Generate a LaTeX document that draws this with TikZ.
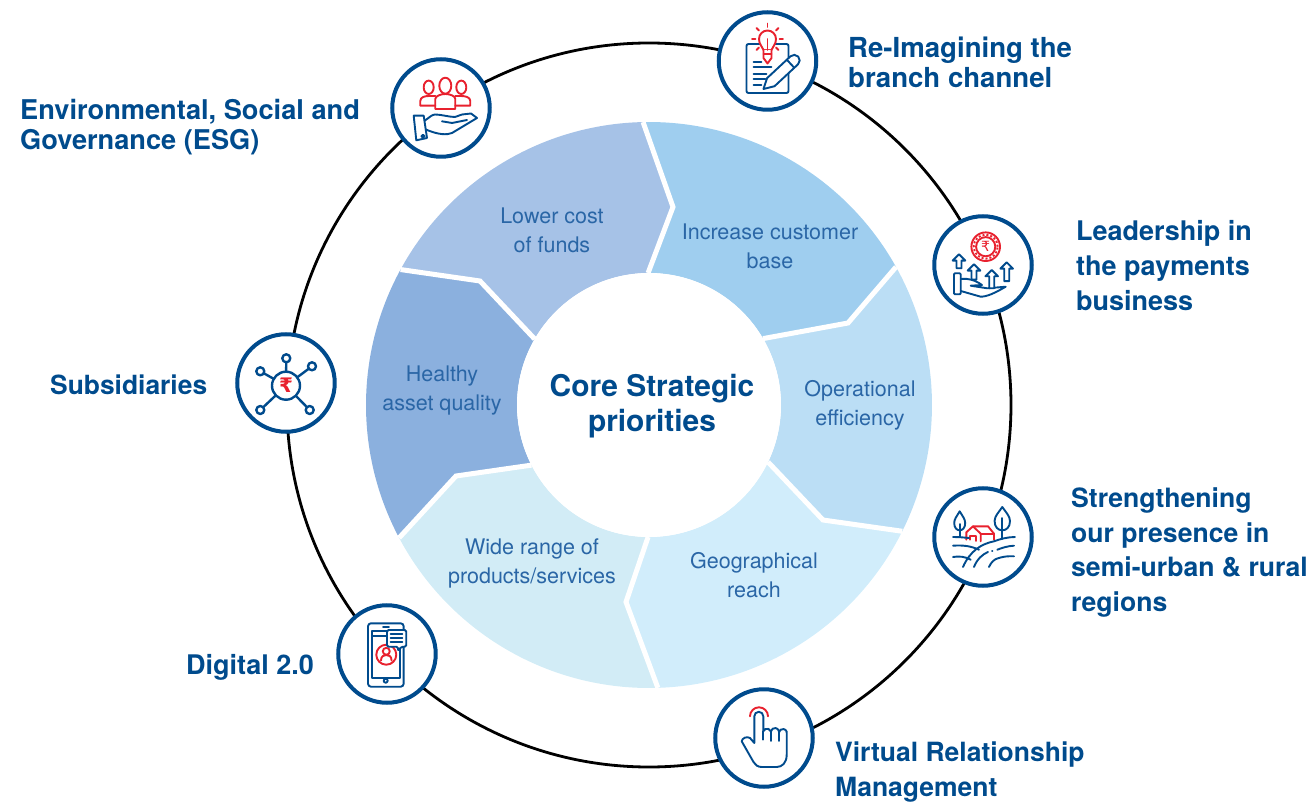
\documentclass[tikz,border=0pt]{standalone}
\usepackage{fontspec}
\setmainfont{TeX Gyre Heros}
\newfontfamily\rupeefont{DejaVu Sans}
\definecolor{deepblue}{HTML}{004B8D}
\definecolor{softblue}{HTML}{2A66A6}
\definecolor{iconred}{HTML}{E8212E}
\definecolor{lowercost}{HTML}{A6C2E7}
\definecolor{customer}{HTML}{9FCEEF}
\definecolor{operational}{HTML}{BBDEF5}
\definecolor{reach}{HTML}{D1EDFB}
\definecolor{products}{HTML}{D2ECF6}
\definecolor{assets}{HTML}{8BB0DE}
\tikzset{
    iconcircle/.style = {circle, draw = deepblue, line width = 4pt, fill = white, minimum size = 97.5pt, inner sep = 0pt},
    heading/.style 2 args = {anchor = west, align = left, inner sep = 0pt, text = deepblue, font = \bfseries\fontsize{#1}{#2}\selectfont},
    priority/.style = {align = center, inner sep = 0pt, text = softblue, font = \fontsize{21.5}{29}\selectfont},
    iconline/.style = {draw = deepblue, line width = 1.9pt, line join = round, line cap = round},
    iconredline/.style = {draw = iconred, line width = 1.9pt, line join = round, line cap = round}
}
\begin{document}
\begin{tikzpicture}[x = 1pt, y = 1pt]
    \useasboundingbox (-649,-398) rectangle (660,405);
    \foreach \i/\oa/\nx/\ny/\ia in {1/91.2/24/198/90.4, 2/29.2/199/82/30.2, 3/-26.5/174/-115/-25.6, 4/-88.2/-23/-197/-90.4, 5/-152/-193/-71/-152.9, 6/151.4/-169/124/150} {
        \coordinate (o\i) at (\oa:283);
        \coordinate (n\i) at (\nx,\ny);
        \coordinate (i\i) at (\ia:132);
    }
    \foreach \i/\oa/\ia/\j/\ob/\ib/\col in {6/151.4/150/1/91.2/90.4/lowercost, 1/91.2/90.4/2/29.2/30.2/customer, 2/29.2/30.2/3/-26.5/-25.6/operational, 3/-26.5/-25.6/4/-88.2/-90.4/reach, 4/-88.2/-90.4/5/-152/-152.9/products, 5/-152/-152.9/6/-208.6/-210/assets}
        \fill[\col] (o\i) -- (n\i) -- (i\i) arc[start angle = \ia, end angle = \ib, radius = 132pt] -- (n\j) -- (o\j) arc[start angle = \ob, end angle = \oa, radius = 283pt] -- cycle;
    \foreach \i in {1, ..., 6}
        \draw[white, line width = 5pt] (o\i) -- (n\i) -- (i\i);
    \fill[white] (0,0) circle[radius = 132pt];
    \node[align = center, inner sep = 0pt, text = deepblue, font = \bfseries\fontsize{29.9}{35}\selectfont] (core) at (3,-1) {Core Strategic\\priorities};

    \node[priority] (lower) at (-97,174.5) {Lower cost\\of funds};
    \node[priority] (increase) at (121,158.5) {Increase customer\\base};
    \node[priority] (efficiency) at (211,-0.5) {Operational\\efficiency};
    \node[priority] (geo) at (105,-170.5) {Geographical\\reach};
    \node[priority] (wide) at (-117,-158.5) {Wide range of\\products/services};
    \node[priority] (healthy) at (-207,14.5) {Healthy\\asset quality};

    \draw[line width = 2.8pt] (0,0) circle[radius = 362pt];
    \node[iconcircle] (reimagine) at (118.5,344) {};
    \node[iconcircle] (payments) at (334,140) {};
    \node[iconcircle] (rural) at (334,-132) {};
    \node[iconcircle] (virtual) at (115,-333) {};
    \node[iconcircle] (digital) at (-262,-249) {};
    \node[iconcircle] (subsidiaries) at (-363,22) {};
    \node[iconcircle] (esg) at (-208,297) {};

    \node[heading = {27.6}{30}] (lblreimagine) at (199,343) {Re-Imagining the\\branch channel};
    \node[heading = {27}{35}] (lblpayments) at (427,139) {Leadership in\\the payments\\business};
    \node[heading = {26.6}{34.7}] (lblrural) at (422,-147.5) {Strengthening\\our presence in\\semi-urban \& rural\\regions};
    \node[heading = {26.5}{35}] (lblvirtual) at (186,-367.5) {Virtual Relationship\\Management};
    \node[heading = {27}{31}] (lbldigital) at (-463,-262) {Digital 2.0};
    \node[heading = {26.4}{31}] (lblsubsidiaries) at (-599,20) {Subsidiaries};
    \node[heading = {27.2}{30}] (lblesg) at (-629,277.5) {Environmental, Social and\\Governance (ESG)};

    \begin{scope}[shift = {(reimagine)}]
        \draw[iconline, rounded corners = 2pt] (-21,17) rectangle (21,-32);
        \foreach \e/\y in {-6/-1, 4/-6, -1/-13, -2/-18, -6/-24}
            \draw[iconline] (-14,\y) -- (\e,\y);
        \begin{scope}[shift = {(-4,-28)}, rotate = 43]
            \draw[iconline, fill = white] (0,0) -- (10,5.5) -- (42,5.5) arc[start angle = 90, end angle = -90, radius = 5.5pt] -- (10,-5.5) -- cycle;
            \draw[iconline] (37,5.5) -- (37,-5.5);
        \end{scope}
        \draw[iconredline, fill = white] (-4,11) .. controls (-5,15) and (-8.5,16) .. (-8.5,22) arc[start angle = 180, end angle = 0, radius = 8.5pt] .. controls (8.5,16) and (5,15) .. (4,11) -- cycle;
        \draw[iconredline, fill = white] (-4,11) -- (-4,3) -- (0,-2.5) -- (4,3) -- (4,11);
        \draw[iconredline] (0,22) -- (0,11) (-4,7) -- (4,7);
        \begin{scope}[shift = {(0,22)}]
            \foreach \a in {-135, -45, 0, 45, 90, 135, 180}
                \draw[iconredline] (\a:12) -- (\a:15.5);
        \end{scope}
    \end{scope}

    \begin{scope}[shift = {(esg)}]
        \draw[iconredline] (-12.3,20.7) ellipse[x radius = 5pt, y radius = 6.7pt];
        \draw[iconredline] (4.3,22.3) ellipse[x radius = 6pt, y radius = 8pt];
        \draw[iconredline] (20.3,20.7) ellipse[x radius = 5pt, y radius = 6.7pt];
        \draw[iconredline] (-5.7,2.3) -- (-20.7,2.3) -- (-20.7,7) .. controls (-20.7,11) and (-16,12) .. (-12,12) -- (-5.7,12);
        \draw[iconredline] (14.3,2.3) -- (29.3,2.3) -- (29.3,7) .. controls (29.3,11) and (24,12) .. (20,12) -- (14.3,12);
        \draw[iconredline] (-5.7,-1) -- (-5.7,9) .. controls (-5.7,12) and (0,14) .. (4.3,14) .. controls (9,14) and (14.3,12) .. (14.3,9) -- (14.3,-1) -- cycle;
        \draw[iconline] (-27.3,-7.7) -- (-17.3,-7.7) -- (-14,-30) -- (-24.7,-32.3) -- cycle;
        \draw[iconline] (-18,-28.3) circle[radius = 1.6pt];
        \draw[iconline] (-16.3,-12.7) .. controls (-11,-9) and (-9,-6.5) .. (-5.7,-6.5) .. controls (0,-6.5) and (8,-9) .. (14,-9) -- (21,-6.5) -- (30,-5.5) -- (36,-10) -- (11,-25) .. controls (6,-27) and (-2,-27) .. (-14.7,-21.7);
        \draw[iconline] (1,-13.3) -- (11,-15) -- (26,-12);
    \end{scope}

    \begin{scope}[shift = {(payments)}]
        \draw[iconline, rounded corners = 1pt] (-29,-8.3) rectangle (-22.3,-29.3);
        \draw[iconline] (-22.3,-14) .. controls (-15,-13) and (-8,-15) .. (-1,-20) -- (-12.3,-20.7) -- (4.3,-23.3) -- (22.7,-21.7) .. controls (12,-28) and (4,-31.7) .. (-2.3,-31.7) -- (-22.3,-26);
        \foreach \x/\t/\h in {-24/10.7/7.7, -9/0.7/9, 8.7/-5/12, 23.7/2.7/12.5}
            \draw[iconline, fill = white] (\x,\t) -- ++(6.3,-6.3) -- ++(-3.8,0) -- ++(0,-\h) -- ++(-5,0) -- ++(0,\h) -- ++(-3.8,0) -- cycle;
        \draw[iconredline] (2.7,18.3) circle[radius = 14.3pt];
        \draw[iconredline] (2.7,18.3) circle[radius = 9.6pt];
        \draw[iconredline, line cap = butt, dash pattern = on 2pt off 2pt] (2.7,18.3) circle[radius = 12pt];
        \node[inner sep = 0pt, text = iconred, font = \rupeefont\fontsize{14}{14}\selectfont] (coinrupee) at (2.7,18.3) {₹};
    \end{scope}

    \begin{scope}[shift = {(rural)}]
        \draw[iconline] (-23.3,25.7) .. controls (-26,21) and (-28.8,18) .. (-28.8,14) .. controls (-28.8,9) and (-26,6.7) .. (-23.3,6.7) .. controls (-20.6,6.7) and (-17.8,9) .. (-17.8,14) .. controls (-17.8,18) and (-20.6,21) .. cycle;
        \draw[iconline] (-23.3,13) -- (-23.3,0);
        \draw[iconline] (19.3,30) .. controls (16,25) and (11.6,21) .. (11.6,16) .. controls (11.6,10) and (15,6.7) .. (19.3,6.7) .. controls (23.6,6.7) and (27,10) .. (27,16) .. controls (27,21) and (22.6,25) .. cycle;
        \draw[iconline] (19.3,19) -- (19.3,-2);
        \draw[iconredline] (-16.7,-2.7) -- (-16.7,4.7) -- (-10,10.7) -- (-2.3,3.3) -- (-2.3,-4.3);
        \draw[iconredline] (-10,10.7) -- (5,10.7) -- (11,3.3) -- (11,-2.7);
        \draw[iconredline] (-2.3,3.3) -- (11,3.3);
        \draw[iconredline] (-13,-2.7) -- (-13,1.3) -- (-6.7,1.3) -- (-6.7,-4);
        \draw[iconline] (-30,0) .. controls (-24,0) and (-19,-0.5) .. (-14,-1);
        \draw[iconline] (-20,-30) .. controls (-13,-14) and (-2,-7) .. (11,-4.3) .. controls (17,-2) and (25,0) .. (32,0);
        \draw[iconline] (-30,-8.7) .. controls (-20,-8) and (-12,-9) .. (-4,-12.7);
        \draw[iconline] (-30,-20) .. controls (-24,-19) and (-18,-19.5) .. (-12.3,-22.7);
        \draw[iconline] (-9,-30) .. controls (-6,-22) and (0,-17) .. (5,-15);
        \draw[iconline] (9,-14) -- (9.5,-14);
        \draw[iconline] (14.3,-12.7) .. controls (20,-10.5) and (25,-9) .. (31,-8.7);
        \draw[iconline] (6,-30) .. controls (8,-25) and (12,-22) .. (14.3,-21.5) .. controls (20,-19.5) and (25,-19) .. (31,-19.3);
    \end{scope}

    \begin{scope}[shift = {(virtual)}]
        \draw[iconline] (-9.7,-5) -- (-9.7,21.7) arc[start angle = 180, end angle = 0, radius = 4.5pt] -- (-0.7,6.7) arc[start angle = 160, end angle = 20, radius = 4pt] -- (7,6.7) arc[start angle = 170, end angle = 20, radius = 4pt] -- (15,5.7) arc[start angle = 170, end angle = 20, radius = 4pt] -- (22.7,3.3) -- (22.7,-16.7) .. controls (22.7,-25) and (18,-29) .. (12.7,-29) -- (-2.3,-29) .. controls (-6,-29) and (-9,-27) .. (-10.5,-24) -- (-22.3,-3.3) .. controls (-22,0) and (-17,2) .. (-14,0) -- cycle;
        \draw[iconline] (-0.7,6.7) -- (-0.7,-1.7) (7,6.7) -- (7,-3) (15,5.7) -- (15,-3);
        \draw[iconredline] (-14,21.7) arc[start angle = 180, end angle = 0, radius = 9pt];
    \end{scope}

    \begin{scope}[shift = {(digital)}]
        \draw[iconline, rounded corners = 3pt] (-19,30.7) rectangle (16.7,-32.7);
        \draw[iconline] (-14.7,23.3) rectangle (13.3,-24);
        \draw[iconline] (-14.7,18.3) -- (0,18.3);
        \draw[iconline] (-4,27.3) -- (2,27.3);
        \draw[iconline] (-1.3,-26.7) circle[radius = 2pt];
        \draw[iconredline] (-0.7,-0.7) circle[radius = 10pt];
        \draw[iconredline] (-0.7,2.7) circle[radius = 3.5pt];
        \draw[iconredline] (-6,-6.5) .. controls (-6,-2) and (-3,-1) .. (-0.7,-1) .. controls (1.6,-1) and (4.6,-2) .. (4.6,-6.5);
        \draw[iconline, fill = white, rounded corners = 1.5pt] (0,24) -- (19.3,24) -- (19.3,7.3) -- (14.3,7.3) -- (11,2.7) -- (11,7.3) -- (0,7.3) -- cycle;
        \foreach \y in {20, 15.7, 11.7}
            \draw[iconline] (3.7,\y) -- (15.3,\y);
    \end{scope}

    \begin{scope}[shift = {(subsidiaries)}]
        \foreach \x/\y in {0.3/24.7, -25.7/11.7, 26/16.7, -25.7/-27, 23.7/-27} {
            \draw[iconline, line width = 2.4pt] (0,-2.7) -- (\x,\y);
            \draw[iconline, line width = 2.4pt, fill = white] (\x,\y) circle[radius = 4pt];
        }
        \draw[iconline, line width = 2.4pt, fill = white] (0,-2.7) circle[radius = 14pt];
        \node[inner sep = 0pt, text = iconred, font = \rupeefont\bfseries\fontsize{20}{20}\selectfont] (hubrupee) at (0,-2.7) {₹};
    \end{scope}
\end{tikzpicture}
\end{document}
